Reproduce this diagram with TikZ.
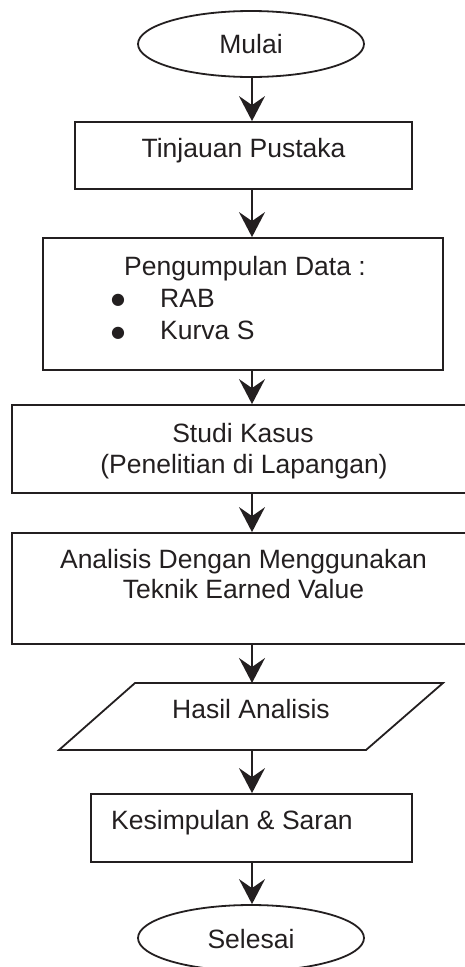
\documentclass[tikz,border=0pt]{standalone}
\usepackage{fontspec}
\setmainfont{Liberation Sans}
\newfontfamily\dejavu{DejaVu Sans}
\usetikzlibrary{arrows.meta,shapes.geometric}
\definecolor{ink}{HTML}{231F20}
\begin{document}
\begin{tikzpicture}[x=1pt,y=-1pt,
  line/.style={draw=ink, line width=1.8pt},
  box/.style={line, rectangle, inner sep=0pt},
  oval/.style={line, ellipse, minimum width=226pt, minimum height=66pt, inner sep=0pt},
  txt/.style={inner sep=0pt, font=\fontsize{26.5}{31}\selectfont, text=ink},
  bul/.style={inner sep=0pt, font=\dejavu\fontsize{16}{16}\selectfont, text=ink},
  arr/.style={line, -{Stealth[length=25pt,width=26pt,inset=9pt]}}]
\useasboundingbox (0,0) rectangle (465,967);
\coordinate (ax) at (252,0);

% shapes
\node[oval] (mulai) at (251,44) {};
\node[box, minimum width=337pt, minimum height=67pt] (tinj) at (243.5,155.5) {};
\node[box, minimum width=400pt, minimum height=132pt] (peng) at (243,304) {};
\node[box, minimum width=468pt, minimum height=88pt] (studi) at (246,449) {};
\node[box, minimum width=468pt, minimum height=111pt] (anal) at (246,588.5) {};
\coordinate (hTL) at (135,683);
\coordinate (hTR) at (443,683);
\coordinate (hBR) at (366,750);
\coordinate (hBL) at (59,750);
\draw[line, line join=miter] (hTL) -- (hTR) -- (hBR) -- (hBL) -- cycle;
\node[box, minimum width=321pt, minimum height=68pt] (kes) at (251.5,828) {};
\node[oval] (selesai) at (251,938) {};

% texts
\node[txt, anchor=base] (tMulai) at (251,53) {Mulai};
\node[txt, anchor=base] (tTinj) at (243.5,157) {Tinjauan Pustaka};
\node[txt, anchor=base] (tPeng) at (245,275) {Pengumpulan Data :};
\node[bul, anchor=center] (b1) at (118,300) {●};
\node[txt, anchor=base west] (tRab) at (160,307) {RAB};
\node[bul, anchor=center] (b2) at (118,333) {●};
\node[txt, anchor=base west] (tKurva) at (160,339) {Kurva S};
\node[txt, anchor=base] (tStudi1) at (243,442) {Studi Kasus};
\node[txt, anchor=base] (tStudi2) at (244,473) {(Penelitian di Lapangan)};
\node[txt, anchor=base] (tAnal1) at (243.5,568) {Analisis Dengan Menggunakan};
\node[txt, anchor=base] (tAnal2) at (243.5,598) {Teknik Earned Value};
\node[txt, anchor=base] (tHasil) at (251,718) {Hasil Analisis};
\node[txt, anchor=base] (tKes) at (232,829) {Kesimpulan \& Saran};
\node[txt, anchor=base] (tSel) at (251,948) {Selesai};

% connectors
\draw[arr] (ax |- mulai.south) -- (ax |- tinj.north);
\draw[arr] (ax |- tinj.south) -- (ax |- peng.north);
\draw[arr] (ax |- peng.south) -- (ax |- studi.north);
\draw[arr] (ax |- studi.south) -- (ax |- anal.north);
\draw[arr] (ax |- anal.south) -- (ax |- hTL);
\draw[arr] (ax |- hBL) -- (ax |- kes.north);
\draw[arr] (ax |- kes.south) -- (ax |- selesai.north);
\end{tikzpicture}
\end{document}
